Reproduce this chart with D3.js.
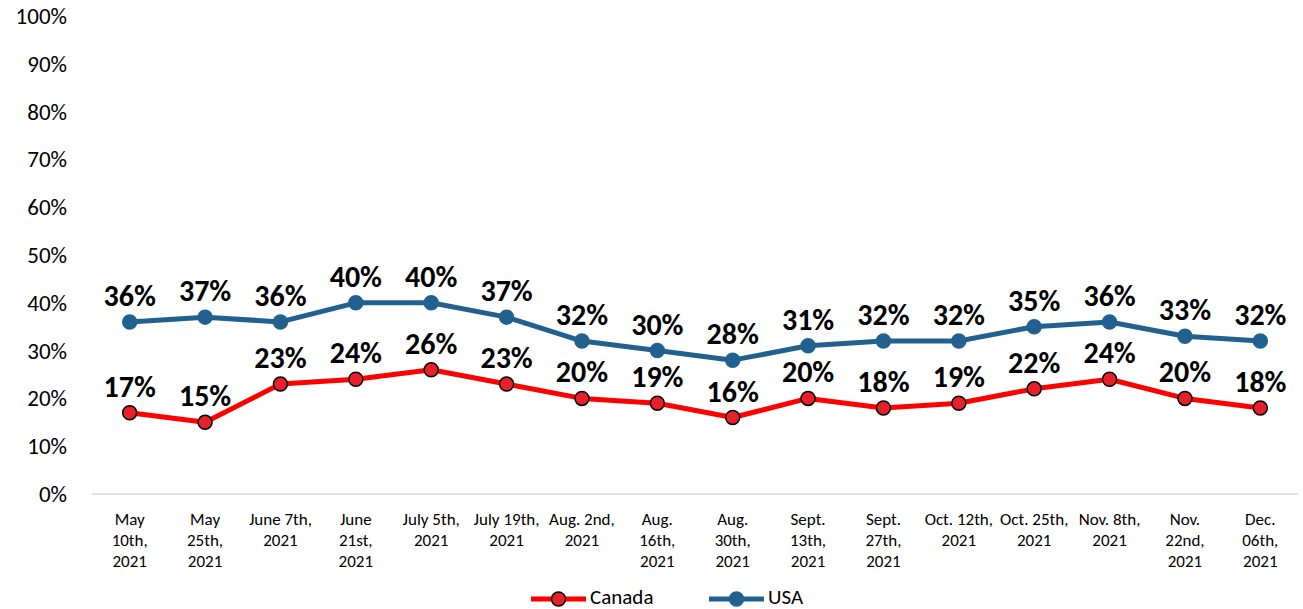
<!DOCTYPE html>
<html>
<head>
<meta charset="utf-8">
<script src="https://cdn.jsdelivr.net/npm/d3@7"></script>
<style>
  body { margin: 0; background: #fff; }
  svg { display: block; font-family: Calibri, Carlito, Lato, sans-serif; }
</style>
</head>
<body>
<div id="chart"></div>
<script>
// data
const dates = [
    "May\n10th,\n2021", "May\n25th,\n2021", "June 7th,\n2021", "June\n21st,\n2021",
    "July 5th,\n2021", "July 19th,\n2021", "Aug. 2nd,\n2021", "Aug.\n16th,\n2021",
    "Aug.\n30th,\n2021", "Sept.\n13th,\n2021", "Sept.\n27th,\n2021", "Oct. 12th,\n2021",
    "Oct. 25th,\n2021", "Nov. 8th,\n2021", "Nov.\n22nd,\n2021", "Dec.\n06th,\n2021"
];
const canada = [17, 15, 23, 24, 26, 23, 20, 19, 16, 20, 18, 19, 22, 24, 20, 18];
const usa    = [36, 37, 36, 40, 40, 37, 32, 30, 28, 31, 32, 32, 35, 36, 33, 32];
const yTicks = [0, 10, 20, 30, 40, 50, 60, 70, 80, 90, 100];

const series = [
    { name: "Canada", values: canada, line: "#ff0000", fill: "#e8202a", stroke: "#000" },
    { name: "USA",    values: usa,    line: "#22618f", fill: "#22618f", stroke: "#22618f" }
];

const width = 1303, height = 609;
const margin = { left: 92, right: 5, top: 16, bottom: 115 };

const svg = d3.select('#chart')
    .append('svg')
    .attr('width', width)
    .attr('height', height);

const x = d3.scaleBand()
    .domain(d3.range(dates.length))
    .range([margin.left, width - margin.right]);

const y = d3.scaleLinear()
    .domain([0, 100])
    .range([height - margin.bottom, margin.top]);

const cx = i => x(i) + x.bandwidth() / 2;

// y labels (no axis line, no gridlines)
svg.append('g')
    .selectAll('text')
    .data(yTicks)
    .join('text')
    .attr('x', 67)
    .attr('y', d => y(d))
    .attr('dy', '0.35em')
    .attr('text-anchor', 'end')
    .attr('font-size', '23px')
    .attr('fill', '#000')
    .text(d => d + '%');

// baseline
svg.append('line')
    .attr('x1', margin.left)
    .attr('x2', width - margin.right)
    .attr('y1', y(0))
    .attr('y2', y(0))
    .attr('stroke', '#d9d9d9')
    .attr('stroke-width', 1.5);

// x labels, multi line
const xl = svg.append('g')
    .selectAll('text')
    .data(dates)
    .join('text')
    .attr('x', (d, i) => cx(i))
    .attr('y', 525)
    .attr('text-anchor', 'middle')
    .attr('font-size', '17px')
    .attr('fill', '#000');
xl.each(function(d, i) {
    d.split('\n').forEach((t, k) => {
        d3.select(this).append('tspan')
            .attr('x', cx(i))
            .attr('y', 525 + k * 21)
            .text(t);
    });
});

const line = d3.line()
    .x((d, i) => cx(i))
    .y(d => y(d));

series.forEach(s => {
    const g = svg.append('g');
    g.append('path')
        .datum(s.values)
        .attr('d', line)
        .attr('fill', 'none')
        .attr('stroke', s.line)
        .attr('stroke-width', 5)
        .attr('stroke-linejoin', 'round');
    g.selectAll('circle')
        .data(s.values)
        .join('circle')
        .attr('cx', (d, i) => cx(i))
        .attr('cy', d => y(d))
        .attr('r', 7)
        .attr('fill', s.fill)
        .attr('stroke', s.stroke)
        .attr('stroke-width', 1.5);
});

// data labels on top
series.forEach(s => {
    svg.append('g')
        .selectAll('text')
        .data(s.values)
        .join('text')
        .attr('x', (d, i) => cx(i))
        .attr('y', d => y(d) - 16)
        .attr('text-anchor', 'middle')
        .attr('font-size', '30px')
        .attr('font-weight', 'bold')
        .attr('fill', '#000')
        .text(d => d + '%');
});

// legend
const legendPos = [531, 709];
series.forEach((s, i) => {
    const lg = svg.append('g').attr('transform', `translate(${legendPos[i]},599)`);
    lg.append('line')
        .attr('x1', 0).attr('x2', 55)
        .attr('stroke', s.line)
        .attr('stroke-width', 5);
    lg.append('circle')
        .attr('cx', 27.5)
        .attr('r', 7)
        .attr('fill', s.fill)
        .attr('stroke', s.stroke)
        .attr('stroke-width', 1.5);
    lg.append('text')
        .attr('x', 59)
        .attr('y', 5)
        .attr('font-size', '21px')
        .attr('fill', '#000')
        .text(s.name);
});
</script>
</body>
</html>
